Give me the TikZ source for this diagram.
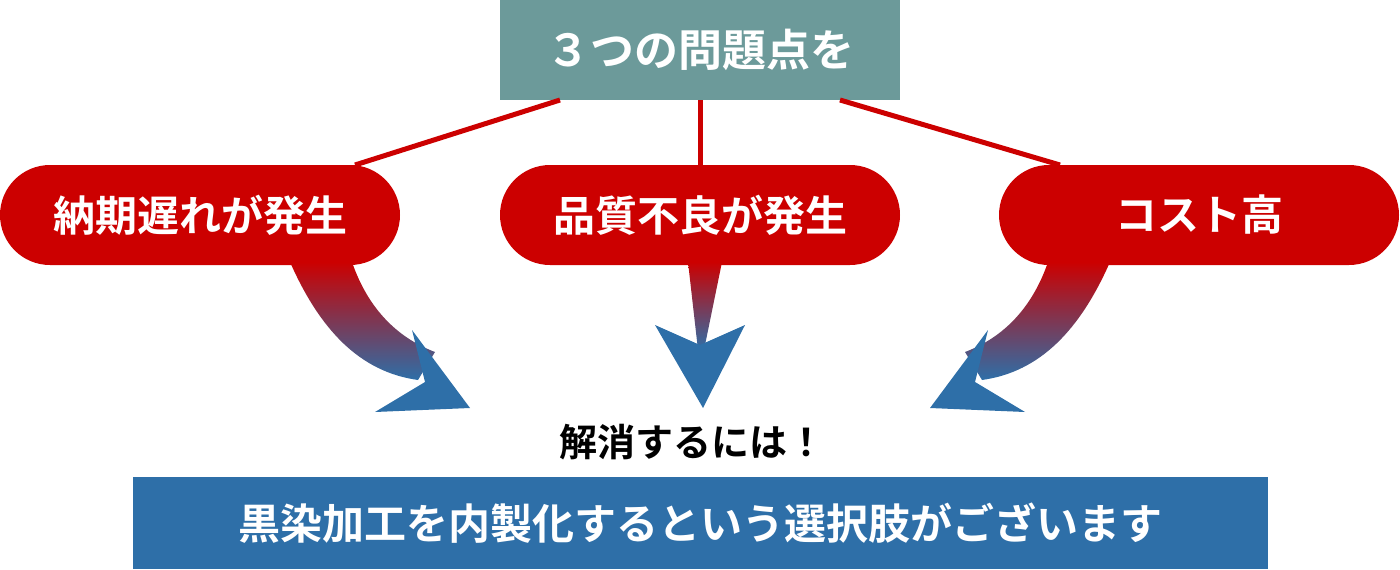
\documentclass[tikz,border=0pt]{standalone}
\usepackage{fontspec}
\newfontfamily\jp{Noto Sans CJK JP Bold}
\definecolor{teal1}{HTML}{6C9A9A}
\definecolor{red1}{HTML}{CC0000}
\definecolor{blue1}{HTML}{2E6FA8}
\begin{document}
\begin{tikzpicture}[x=1pt,y=-1pt,
  pill/.style={fill=red1,rounded corners=50pt,text=white,minimum width=400pt,minimum height=100pt,font=\jp\fontsize{42}{42}\selectfont},
  link/.style={red1,line width=5pt},
  shaft/.style={top color=red1,bottom color=blue1,draw=none},
  head/.style={fill=blue1}]
\useasboundingbox (0,0) rectangle (1400,570);
\node[fill=teal1,text=white,minimum width=400pt,minimum height=100pt,font=\jp\fontsize{44}{44}\selectfont] (top) at (700,50) {３つの問題点を};
\node[pill] (p1) at (200,215) {納期遅れが発生};
\node[pill] (p2) at (700,215) {品質不良が発生};
\node[pill] (p3) at (1199,215) {コスト高};
\coordinate (t1) at (560,100); \coordinate (t3) at (840,100);
\coordinate (b1) at (355,165); \coordinate (b3) at (1060,165);
\begin{scope}[on background layer/.try]
\draw[link] (t1) -- (b1);
\draw[link] (top.south) -- (p2.north);
\draw[link] (t3) -- (b3);
\end{scope}
\shade[shaft] (290,262) .. controls (320,330) and (360,372) .. (418,380) -- (435,352) .. controls (390,335) and (365,300) .. (352,262) -- cycle;
\fill[head] (412,330) -- (425,382) -- (375,412) -- (470,408) -- cycle;
\shade[shaft] (688,262) -- (722,262) -- (704,350) -- (698,350) -- cycle;
\fill[head] (655,325) -- (700,345) -- (745,325) -- (703,408) -- cycle;
\shade[shaft] (1110,262) .. controls (1080,330) and (1040,372) .. (982,380) -- (965,352) .. controls (1010,335) and (1035,300) .. (1048,262) -- cycle;
\fill[head] (988,330) -- (975,382) -- (1025,412) -- (930,408) -- cycle;
\node[font=\jp\fontsize{38}{38}\selectfont] (q) at (692,442) {解消するには！};
\node[fill=blue1,text=white,minimum width=1135pt,minimum height=92pt,font=\jp\fontsize{42}{42}\selectfont] (ans) at (700,523) {黒染加工を内製化するという選択肢がございます};
\end{tikzpicture}
\end{document}
